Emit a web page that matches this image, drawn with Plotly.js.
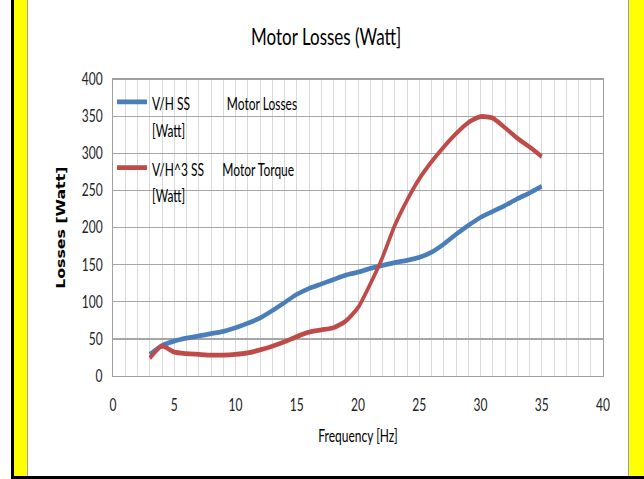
<!DOCTYPE html>
<html>
<head>
<meta charset="utf-8">
<script src="https://cdn.plot.ly/plotly-3.0.1.min.js"></script>
<style>
  html, body { margin:0; padding:0; background:#ffffff; }
  #page { position:relative; width:644px; height:479px; overflow:hidden; background:#ffffff; }
  #blackL { position:absolute; left:11px; top:0; width:3px; height:479px; background:#000; }
  #yellow { position:absolute; left:14px; top:0; width:630px; height:476px; background:#ffff00; }
  #blackB { position:absolute; left:11px; top:476px; width:633px; height:3px; background:#000; }
  #frame { position:absolute; left:27px; top:0; width:600px; height:476px; border-left:1px solid #a0a0a0; border-right:1px solid #a0a0a0; background:#fff; overflow:hidden; }
  #chart { position:absolute; left:0; top:0; width:600px; height:347px; transform:scaleY(1.3718); transform-origin:0 0; }
</style>
</head>
<body>
<div id="page">
  <div id="yellow"></div>
  <div id="blackL"></div>
  <div id="blackB"></div>
  <div id="frame"><div id="chart"></div></div>
</div>
<script>
// Frequency [Hz]
const freq = [3,4,5,6,7,8,9,10,11,12,13,14,15,16,17,18,19,20,21,22,23,24,25,26,27,28,29,30,31,32,33,34,35];
// V/H SS  Motor Losses [Watt]
const vhLosses = [29,41,47,51,54,57,60,65,71,78,88,99,110,118,124,130,136,140,145,149,153,156,160,167,178,191,203,214,222,230,239,247,256];
// V/H^3 SS  Motor Torque [Watt]
const vh3Losses = [24,40,32,30,29,28,28,29,31,35,40,46,53,59,62,65,74,92,124,160,203,237,266,289,309,327,342,350,348,335,321,309,296];

const NB = '\u00a0';
const seriesNames = [
  'V/H SS' + NB.repeat(12) + 'Motor Losses',
  'V/H^3 SS' + NB.repeat(6) + 'Motor Torque'
];
const unitLine = '[Watt]';
const xTicks = [0,5,10,15,20,25,30,35,40];
const yTicks = [0,50,100,150,200,250,300,350,400];

const FONT = 'Lato, "Liberation Sans", Arial, sans-serif';

function legendName(n) {
  return '<span style="font-size:12px">' + n + '</span><br><span style="font-size:12px">' + unitLine + '</span>';
}

const traces = [
  {x: freq, y: vhLosses, type:'scatter', mode:'lines', name: legendName(seriesNames[0]), legendgroup:'a',
   line:{color:'#4a7ebb', width:3.5, shape:'spline', smoothing:0.6}},
  {x: freq, y: vh3Losses, type:'scatter', mode:'lines', name: legendName(seriesNames[1]), legendgroup:'b',
   line:{color:'#be4b48', width:3.5, shape:'spline', smoothing:0.6}}
];

const layout = {
  width:600, height:347,
  margin:{l:85, r:25, t:58, b:73},
  paper_bgcolor:'rgba(0,0,0,0)', plot_bgcolor:'#ffffff',
  font:{family:FONT, color:'#000'},
  title:{text:'Motor Losses (Watt]', font:{family:FONT, size:17, color:'#000'}, x:0.497, xanchor:'center', y:0.922, yanchor:'middle'},
  xaxis:{
    range:[0,40], tickvals:xTicks, ticktext:xTicks.map(String),
    showgrid:true, gridcolor:'#d9d9d9', gridwidth:1,
    minor:{dtick:1, showgrid:true, gridcolor:'#d9d9d9', gridwidth:1},
    showline:true, linecolor:'#a0a0a0', linewidth:1, mirror:true,
    zeroline:false, ticks:'', ticklabelstandoff:10,
    tickfont:{family:FONT, size:12, color:'#222'},
    title:{text:'Frequency [Hz]', font:{family:FONT, size:12, color:'#000'}, standoff:12}
  },
  yaxis:{
    range:[0,400], tickvals:yTicks, ticktext:yTicks.map(String),
    showgrid:true, gridcolor:'#a6a6a6', gridwidth:1,
    showline:true, linecolor:'#a0a0a0', linewidth:1, mirror:true,
    zeroline:false, ticks:'', ticklabelstandoff:7,
    tickfont:{family:FONT, size:12, color:'#222'},
    title:{text:'<b>Losses [Watt]</b>', font:{family:'"DejaVu Sans", Verdana, sans-serif', size:11.5, color:'#000'}, standoff:13}
  },
  showlegend:true,
  legend:{x:-0.002, y:1.0, xanchor:'left', yanchor:'top', bgcolor:'rgba(0,0,0,0)',
    font:{family:FONT, size:15, color:'#000'}, valign:'top', traceorder:'grouped', tracegroupgap:6,
    itemwidth:30},
};

Plotly.newPlot('chart', traces, layout, {displayModeBar:false, staticPlot:true});
</script>
</body>
</html>
